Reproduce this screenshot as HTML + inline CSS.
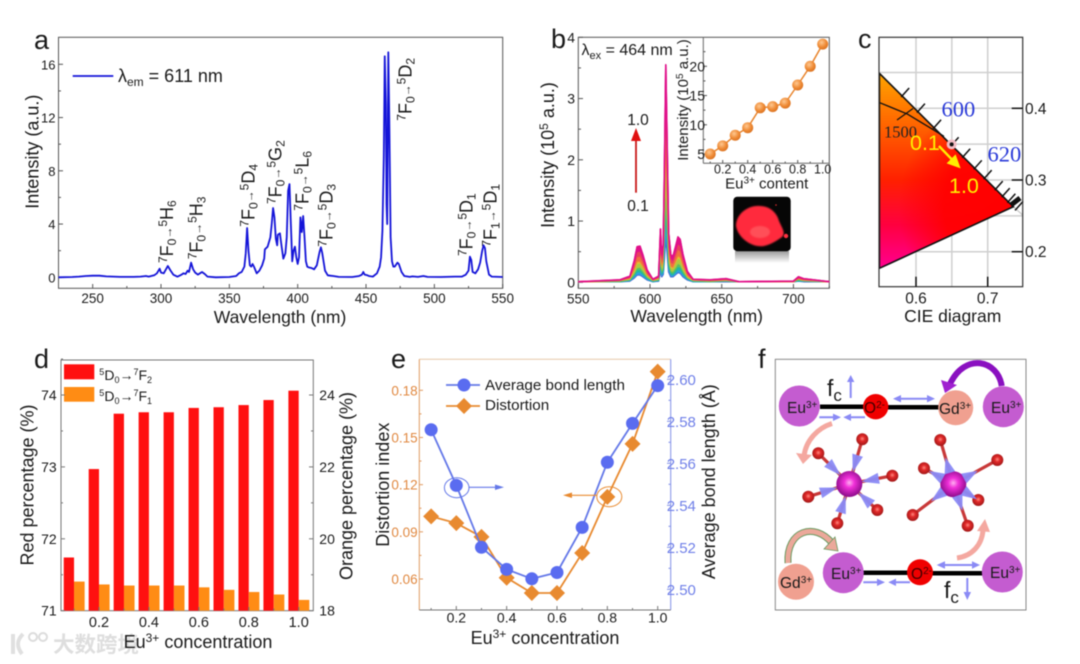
<!DOCTYPE html>
<html lang="en">
<head>
<meta charset="utf-8">
<title>Eu3+ phosphor characterisation figure</title>
<style>
html,body{margin:0;padding:0;background:#fff;}
body{width:1080px;height:664px;overflow:hidden;}
svg{display:block;filter:blur(0.4px);}
text{font-family:"Liberation Sans",Arial,sans-serif;fill:#1a1a1a;}
.serif{font-family:"Liberation Serif",serif;}
</style>
</head>
<body>
<svg id="fig" xmlns="http://www.w3.org/2000/svg" width="1080" height="664" viewBox="0 0 1080 664">
<defs>
  <linearGradient id="gamutBase" gradientUnits="userSpaceOnUse" x1="879" y1="73" x2="879" y2="268">
    <stop offset="0" stop-color="#ffa500"/><stop offset="0.55" stop-color="#ff2000"/><stop offset="0.78" stop-color="#ff0040"/><stop offset="1" stop-color="#ff0090"/>
  </linearGradient>
  <radialGradient id="gamutTip" gradientUnits="userSpaceOnUse" cx="1013" cy="207" r="115">
    <stop offset="0" stop-color="#ff0000"/><stop offset="0.6" stop-color="#ff0000" stop-opacity="0.9"/><stop offset="1" stop-color="#ff0000" stop-opacity="0"/>
  </radialGradient>
  <radialGradient id="orangeBall" cx="0.4" cy="0.35" r="0.7">
    <stop offset="0" stop-color="#ffc890"/><stop offset="0.6" stop-color="#ee8a35"/><stop offset="1" stop-color="#d87020"/>
  </radialGradient>
  <radialGradient id="euBall" cx="0.5" cy="0.45" r="0.55">
    <stop offset="0" stop-color="#ffb0f0"/><stop offset="0.35" stop-color="#f030d8"/><stop offset="1" stop-color="#8a0a88"/>
  </radialGradient>
  <radialGradient id="oBall" cx="0.5" cy="0.45" r="0.55">
    <stop offset="0" stop-color="#ff8a80"/><stop offset="0.4" stop-color="#e02828"/><stop offset="1" stop-color="#a01818"/>
  </radialGradient>
  <linearGradient id="reflect" x1="0" y1="0" x2="0" y2="1">
    <stop offset="0" stop-color="#9a9a9a"/><stop offset="1" stop-color="#ffffff"/>
  </linearGradient>
  <filter id="soft" x="-30%" y="-30%" width="160%" height="160%"><feGaussianBlur stdDeviation="0.8"/></filter>
</defs>

<!-- Panel letters -->
<text x="34" y="49" font-size="27">a</text>
<text x="551" y="48" font-size="27">b</text>
<text x="858" y="48" font-size="27">c</text>
<text x="34" y="368" font-size="27">d</text>
<text x="391" y="368" font-size="27">e</text>
<text x="758" y="368" font-size="27">f</text>

<!-- Panel a static -->
<g id="panelA">
  <rect x="58.5" y="37.3" width="444.2" height="251" fill="none" stroke="#555" stroke-width="1"/>
  <line x1="72.7" y1="76" x2="113.3" y2="76" stroke="#1414d8" stroke-width="1.8"/>
  <text x="118" y="82" font-size="18">λ<tspan font-size="12" dy="4">em</tspan><tspan dy="-4"> = 611 nm</tspan></text>
  <text x="280" y="323" font-size="17.5" text-anchor="middle">Wavelength (nm)</text>
  <text transform="translate(38.5,151.7) rotate(-90)" font-size="18" text-anchor="middle">Intensity (a.u.)</text>
  <g font-size="18">
  <text transform="translate(173,263) rotate(-90)"><tspan font-size="12" dy="-6">7</tspan><tspan dy="6">F</tspan><tspan font-size="12" dy="3">0</tspan><tspan font-size="12" dy="-4">→</tspan><tspan font-size="12" dy="-5">5</tspan><tspan dy="6">H</tspan><tspan font-size="12" dy="3">6</tspan></text>
  <text transform="translate(202.7,259.3) rotate(-90)"><tspan font-size="12" dy="-6">7</tspan><tspan dy="6">F</tspan><tspan font-size="12" dy="3">0</tspan><tspan font-size="12" dy="-4">→</tspan><tspan font-size="12" dy="-5">5</tspan><tspan dy="6">H</tspan><tspan font-size="12" dy="3">3</tspan></text>
  <text transform="translate(254.3,226.7) rotate(-90)"><tspan font-size="12" dy="-6">7</tspan><tspan dy="6">F</tspan><tspan font-size="12" dy="3">0</tspan><tspan font-size="12" dy="-4">→</tspan><tspan font-size="12" dy="-5">5</tspan><tspan dy="6">D</tspan><tspan font-size="12" dy="3">4</tspan></text>
  <text transform="translate(281.7,204) rotate(-90)"><tspan font-size="12" dy="-6">7</tspan><tspan dy="6">F</tspan><tspan font-size="12" dy="3">0</tspan><tspan font-size="12" dy="-4">→</tspan><tspan font-size="12" dy="-5">5</tspan><tspan dy="6">G</tspan><tspan font-size="12" dy="3">2</tspan></text>
  <text transform="translate(308.3,210.7) rotate(-90)"><tspan font-size="12" dy="-6">7</tspan><tspan dy="6">F</tspan><tspan font-size="12" dy="3">0</tspan><tspan font-size="12" dy="-4">→</tspan><tspan font-size="12" dy="-5">5</tspan><tspan dy="6">L</tspan><tspan font-size="12" dy="3">6</tspan></text>
  <text transform="translate(332.7,246.7) rotate(-90)"><tspan font-size="12" dy="-6">7</tspan><tspan dy="6">F</tspan><tspan font-size="12" dy="3">0</tspan><tspan font-size="12" dy="-4">→</tspan><tspan font-size="12" dy="-5">5</tspan><tspan dy="6">D</tspan><tspan font-size="12" dy="3">3</tspan></text>
  <text transform="translate(411.7,120.7) rotate(-90)"><tspan font-size="12" dy="-6">7</tspan><tspan dy="6">F</tspan><tspan font-size="12" dy="3">0</tspan><tspan font-size="12" dy="-4">→</tspan><tspan font-size="12" dy="-5">5</tspan><tspan dy="6">D</tspan><tspan font-size="12" dy="3">2</tspan></text>
  <text transform="translate(472.7,256) rotate(-90)"><tspan font-size="12" dy="-6">7</tspan><tspan dy="6">F</tspan><tspan font-size="12" dy="3">0</tspan><tspan font-size="12" dy="-4">→</tspan><tspan font-size="12" dy="-5">5</tspan><tspan dy="6">D</tspan><tspan font-size="12" dy="3">1</tspan></text>
  <text transform="translate(496.7,246.7) rotate(-90)"><tspan font-size="12" dy="-6">7</tspan><tspan dy="6">F</tspan><tspan font-size="12" dy="3">1</tspan><tspan font-size="12" dy="-4">→</tspan><tspan font-size="12" dy="-5">5</tspan><tspan dy="6">D</tspan><tspan font-size="12" dy="3">1</tspan></text>
  </g>
</g>

<!-- Panel b static -->
<g id="panelB">
  <rect x="578.3" y="37.3" width="251" height="251" fill="none" stroke="#555" stroke-width="1"/>
  <text x="581.5" y="55" font-size="16">λ<tspan font-size="11" dy="4">ex</tspan><tspan dy="-4"> = 464 nm</tspan></text>
  <text x="696.7" y="322" font-size="17.5" text-anchor="middle">Wavelength (nm)</text>
  <text transform="translate(554,155) rotate(-90)" font-size="18" text-anchor="middle">Intensity (10<tspan font-size="12" dy="-6">5</tspan><tspan dy="6"> a.u.)</tspan></text>
  <line x1="636" y1="192.7" x2="636" y2="138" stroke="#c81818" stroke-width="1.8"/>
  <polygon points="636,128 631,141 641,141" fill="#e01010"/>
  <text x="638" y="125" font-size="15.5" text-anchor="middle">1.0</text>
  <text x="638" y="211" font-size="15.5" text-anchor="middle">0.1</text>
  <line x1="703.3" y1="37.3" x2="703.3" y2="163.3" stroke="#666" stroke-width="1"/>
  <line x1="703.3" y1="163.3" x2="829.3" y2="163.3" stroke="#666" stroke-width="1"/>
  <text transform="translate(688,100) rotate(-90)" font-size="15" text-anchor="middle">Intensity (10<tspan font-size="10" dy="-5">5</tspan><tspan dy="5"> a.u.)</tspan></text>
  <text x="766.7" y="188.5" font-size="15" text-anchor="middle">Eu<tspan font-size="10" dy="-5">3+</tspan><tspan dy="5"> content</tspan></text>
  <g>
    <rect x="735" y="251" width="54" height="12" fill="url(#reflect)"/>
    <rect x="733.3" y="196.7" width="57.4" height="54.5" rx="4" fill="#060606"/>
    <path d="M736 226 C736 214 748 205 760 206 C770 206 777 213 779 221 C782 228 786 233 782 237 C776 241 772 244 764 246 C752 248 738 238 736 226 Z" fill="#ff2a3c" filter="url(#soft)"/>
    <ellipse cx="760" cy="232" rx="10" ry="6" fill="#ff5058" filter="url(#soft)"/>
    <circle cx="786" cy="236" r="2.2" fill="#ff3040"/>
    <circle cx="776" cy="205" r="0.8" fill="#e03030"/>
  </g>
</g>

<!-- Panel c static -->
<g id="panelC">
  <text x="952.7" y="322" font-size="17.5" text-anchor="middle">CIE diagram</text>
</g>

<!-- Panel d static -->
<g id="panelD">
  <g>
    <path d="M13 634 L13 654 M23 634 C17 640 16 646 22 654" fill="none" stroke="#e0e0e0" stroke-width="4"/>
    <circle cx="33" cy="637" r="4" fill="none" stroke="#dcdcdc" stroke-width="2"/>
    <circle cx="43" cy="637" r="4" fill="none" stroke="#dcdcdc" stroke-width="2"/>
    <text x="53" y="652" font-size="21.5" font-weight="700" style="font-family:'Liberation Sans','Noto Sans CJK SC',sans-serif;fill:#dedede">大数跨境</text>
  </g>
  <rect x="61" y="360" width="252.3" height="250.7" fill="none" stroke="#777" stroke-width="1"/>
  <rect x="64" y="364.3" width="30.3" height="15" fill="#ff1010"/>
  <rect x="64" y="387" width="30.3" height="14.7" fill="#ff8c14"/>
  <text x="99.3" y="380" font-size="14"><tspan font-size="9" dy="-5">5</tspan><tspan dy="5">D</tspan><tspan font-size="9" dy="3">0</tspan><tspan dy="-3">→</tspan><tspan font-size="9" dy="-5">7</tspan><tspan dy="5">F</tspan><tspan font-size="9" dy="3">2</tspan></text>
  <text x="99.3" y="401" font-size="14"><tspan font-size="9" dy="-5">5</tspan><tspan dy="5">D</tspan><tspan font-size="9" dy="3">0</tspan><tspan dy="-3">→</tspan><tspan font-size="9" dy="-5">7</tspan><tspan dy="5">F</tspan><tspan font-size="9" dy="3">1</tspan></text>
  <text x="198" y="648" font-size="18" text-anchor="middle">Eu<tspan font-size="12" dy="-6">3+</tspan><tspan dy="6"> concentration</tspan></text>
  <text transform="translate(33.5,485) rotate(-90)" font-size="18" text-anchor="middle">Red percentage (%)</text>
  <text transform="translate(352.7,486) rotate(-90)" font-size="18" text-anchor="middle">Orange percentage (%)</text>
</g>

<!-- Panel e static -->
<g id="panelE">
  <line x1="419.3" y1="359.3" x2="670.7" y2="359.3" stroke="#e8c8a8" stroke-width="1"/>
  <line x1="419.3" y1="359.3" x2="419.3" y2="610" stroke="#e09a60" stroke-width="1"/>
  <line x1="670.7" y1="359.3" x2="670.7" y2="610" stroke="#8090e8" stroke-width="1"/>
  <line x1="419.3" y1="610" x2="670.7" y2="610" stroke="#777" stroke-width="1"/>
  <text x="545" y="644" font-size="18" text-anchor="middle">Eu<tspan font-size="12" dy="-6">3+</tspan><tspan dy="6"> concentration</tspan></text>
  <text transform="translate(389,484.7) rotate(-90)" font-size="18" text-anchor="middle">Distortion index</text>
  <text transform="translate(715,481.7) rotate(-90)" font-size="18" text-anchor="middle">Average bond length (Å)</text>
</g>
<g id="panelEOver">
  <line x1="446" y1="385" x2="480" y2="385" stroke="#6478e8" stroke-width="1.8"/>
  <circle cx="464" cy="385" r="6.5" fill="#5a6cf0"/>
  <text x="485" y="390" font-size="15.2">Average bond length</text>
  <line x1="446" y1="406" x2="480" y2="406" stroke="#e88a30" stroke-width="1.8"/>
  <polygon points="464,398 472,406 464,414 456,406" fill="#e88a30"/>
  <text x="485" y="410" font-size="15.2">Distortion</text>
  <ellipse cx="456.7" cy="487.7" rx="12.3" ry="10" fill="none" stroke="#6478e8" stroke-width="1"/>
  <line x1="469" y1="487.3" x2="500" y2="487.3" stroke="#6478e8" stroke-width="1.2"/>
  <polygon points="504,487.3 495,484.5 495,490" fill="#6478e8"/>
  <ellipse cx="609.3" cy="496.7" rx="12.5" ry="10" fill="none" stroke="#e88a30" stroke-width="1"/>
  <line x1="597" y1="495.3" x2="566" y2="495.3" stroke="#e88a30" stroke-width="1.2"/>
  <polygon points="563,495.3 572,492.5 572,498" fill="#e88a30"/>
</g>

<!-- Panel f schematic -->
<g id="panelF">
  <rect x="775.3" y="359.3" width="250.7" height="250.7" fill="none" stroke="#888" stroke-width="1"/>
  <line x1="820" y1="406.7" x2="864" y2="406.7" stroke="#000" stroke-width="4.5"/>
  <line x1="888" y1="407.3" x2="940" y2="407.3" stroke="#000" stroke-width="4.5"/>
  <line x1="863" y1="572.7" x2="909" y2="572.7" stroke="#000" stroke-width="4.5"/>
  <line x1="932" y1="573.3" x2="983" y2="573.3" stroke="#000" stroke-width="4.5"/>
  <circle cx="799.3" cy="406" r="20.5" fill="#c45cd0"/>
  <circle cx="875.7" cy="406.7" r="12.7" fill="#f00000"/>
  <circle cx="955.7" cy="407.7" r="17.5" fill="#f0a090"/>
  <circle cx="1003.3" cy="406.7" r="20.5" fill="#c45cd0"/>
  <circle cx="796" cy="581.7" r="18" fill="#f0a090"/>
  <circle cx="843.3" cy="572.7" r="20.5" fill="#c45cd0"/>
  <circle cx="920" cy="572.3" r="13" fill="#f00000"/>
  <circle cx="1002.3" cy="572" r="20.5" fill="#c45cd0"/>
  <g font-size="15.5">
    <text x="787" y="413">Eu<tspan font-size="10" dy="-5">3+</tspan></text>
    <text x="864" y="413" style="fill:#400">O<tspan font-size="10" dy="-5">2-</tspan></text>
    <text x="939" y="414">Gd<tspan font-size="10" dy="-5">3+</tspan></text>
    <text x="991" y="413">Eu<tspan font-size="10" dy="-5">3+</tspan></text>
    <text x="780" y="588">Gd<tspan font-size="10" dy="-5">3+</tspan></text>
    <text x="831" y="579">Eu<tspan font-size="10" dy="-5">3+</tspan></text>
    <text x="911" y="579" style="fill:#400">O<tspan font-size="10" dy="-5">2-</tspan></text>
    <text x="990" y="578">Eu<tspan font-size="10" dy="-5">3+</tspan></text>
  </g>
  <text x="827" y="396" font-size="23">f<tspan font-size="17" dy="5">c</tspan></text>
  <text x="944" y="598" font-size="23">f<tspan font-size="17" dy="5">c</tspan></text>
  <g stroke="#8a8af5" stroke-width="2" fill="#8a8af5">
    <line x1="850.7" y1="398" x2="850.7" y2="378"/>
    <polygon points="850.7,375 847,382 854.4,382" stroke="none"/>
    <line x1="967.3" y1="578" x2="967.3" y2="596"/>
    <polygon points="967.3,600 963.6,592 971,592" stroke="none"/>
    <line x1="896" y1="398.7" x2="932" y2="398.7"/>
    <polygon points="893,398.7 901,395 901,402.4" stroke="none"/>
    <polygon points="935,398.7 927,395 927,402.4" stroke="none"/>
    <line x1="939" y1="565" x2="977" y2="565"/>
    <polygon points="936.7,565 945,561.3 945,568.7" stroke="none"/>
    <polygon points="980,565 972,561.3 972,568.7" stroke="none"/>
    <line x1="819.3" y1="417.3" x2="836" y2="417.3"/>
    <polygon points="841,417.3 833,413.6 833,421" stroke="none"/>
    <line x1="865" y1="417.3" x2="848" y2="417.3"/>
    <polygon points="843.3,417.3 851,413.6 851,421" stroke="none"/>
    <line x1="863.3" y1="582.3" x2="880" y2="582.3"/>
    <polygon points="885,582.3 877,578.6 877,586" stroke="none"/>
    <line x1="910" y1="582.3" x2="893" y2="582.3"/>
    <polygon points="888.3,582.3 896,578.6 896,586" stroke="none"/>
  </g>
  <path d="M1001.7 386 C998 360 965 352 950 384" fill="none" stroke="#8a10c0" stroke-width="6"/>
  <polygon points="945,393 941,380 957,385" fill="#a020d0"/>
  <path d="M832 423.5 C818 428 806 440 804 456" fill="none" stroke="#f4a8a0" stroke-width="5"/>
  <polygon points="803,464 796,453 812,455" fill="#f4a8a0"/>
  <path d="M788 563 C786 530 815 522 832 543" fill="none" stroke="#6a9a60" stroke-width="7"/>
  <path d="M788 563 C786 530 815 522 832 543" fill="none" stroke="#eba89a" stroke-width="5"/>
  <polygon points="838,551 824,549 835,537" fill="#eba89a" stroke="#6a9a60" stroke-width="0.8"/>
  <path d="M957 558 C972 556 982 545 983 530" fill="none" stroke="#f4a8a0" stroke-width="5"/>
  <polygon points="985,519 977,531 990,532" fill="#f4a8a0"/>
</g>
<g id="molecules"></g>

<script>
// ---- Panel a data ----
const aWavelength=[225,235,240,245,250,255,260,270,280,285,289,291,295,297,299,300,302,305,307,309,312,315,316.5,318,319.5,320.5,322,323.5,325,327,328.5,330,332,334,340,350,355,357,359,361,362,363,364,365,366,367,368,370,372,374,375.5,376,378,380,381,382,383,384,385,385.5,387,388,389.5,391,392,393,394,395,396,397,398,399,400,401,402,403,404,405,406,407,408,410,412,414,416,417,418,420,422,424,426,430,440,445,447,448,449,451,452,455,458,460,461,462,463,463.7,464.5,465,465.5,466.3,467,468,469,470,471,473,474,476,478,482,484,488,492,495,505,515,520,523,525,526,527,528,530,532,533.5,535,536,537,538,540,542,550];
const aIntensity=[0,0.02,0.05,0.1,0.12,0.12,0.07,0.03,0.03,0.05,0.1,0.05,0.15,0.3,0.65,0.35,0.3,0.85,0.5,0.2,0.05,0.2,0.3,0.25,0.5,0.4,1.1,0.6,0.35,0.2,0.3,0.4,0.25,0.05,0,0.02,0.1,0.3,0.4,0.8,1.8,3.7,2,0.9,0.8,1,0.8,0.3,0.5,0.9,1.4,2.1,2.3,3,4,5.2,4.5,2.9,2.4,3.2,3.3,2.5,1.4,1.8,3,6.5,7,4,1.2,2,2.3,1.5,1,1.5,4.5,3.4,4.6,3,1.2,0.8,0.75,0.7,0.6,0.9,1.9,2.25,1.8,0.5,0.15,0.12,0.1,0.03,0.02,0.1,0.2,0.4,0.2,0.15,0.1,0.05,0.3,0.8,1.5,3.5,9,16.6,13,5.5,4,16.9,12,3,1.2,0.8,0.8,1.1,1,0.4,0.1,0.03,0.07,0.03,0.1,0.03,0.02,0.05,0.05,0.2,0.5,1.55,1.3,0.4,0.3,0.6,1.1,2,2.4,2.2,1.2,0.2,0.05,0.02];
const aXTicks=[250,300,350,400,450,500,550];
const aXMinor=[275,325,375,425,475,525];
const aYTicks=[0,4,8,12,16];
const aYMinor=[2,6,10,14];

// ---- Panel b data ----
const bWavelength=[550,579,586,589,591,593,595,598,602,606,607.3,608.2,609.2,610,611,612,613,614.5,616,618,619.5,621,623,626,630,642,653,662,700,703.5,707,725];
const bConc01=[.01,.01,.02,.07,.12,.12,.09,.04,.01,.02,.18,.09,.13,.38,.75,.46,.17,.09,.09,.13,.16,.15,.09,.04,.01,.01,.01,.01,.01,.02,.01,.01];
const bConc02=[.01,.01,.03,.09,.16,.16,.12,.05,.01,.03,.23,.12,.16,.49,.96,.59,.22,.12,.11,.16,.2,.19,.12,.05,.01,.01,.02,.01,.01,.02,.02,.01];
const bConc03=[.01,.01,.03,.12,.2,.2,.15,.07,.02,.03,.3,.15,.2,.61,1.21,.75,.27,.15,.14,.2,.25,.24,.15,.06,.02,.01,.02,.01,.01,.03,.02,.01];
const bConc04=[.01,.02,.04,.14,.23,.24,.18,.08,.02,.04,.35,.18,.24,.72,1.42,.88,.32,.18,.17,.24,.3,.28,.18,.07,.02,.02,.02,.01,.01,.04,.02,.01];
const bConc05=[.01,.02,.05,.18,.3,.31,.24,.11,.03,.05,.46,.24,.32,.96,1.88,1.17,.42,.24,.22,.32,.39,.37,.24,.09,.03,.02,.03,.01,.01,.05,.03,.01];
const bConc06=[.01,.02,.06,.19,.32,.32,.25,.11,.03,.06,.48,.25,.33,.99,1.95,1.21,.44,.25,.23,.33,.41,.39,.25,.1,.03,.02,.03,.01,.01,.05,.03,.01];
const bConc07=[.01,.02,.06,.2,.34,.34,.26,.12,.03,.06,.5,.26,.35,1.04,2.06,1.28,.46,.26,.24,.35,.43,.41,.26,.1,.03,.02,.03,.01,.01,.05,.03,.01];
const bConc08=[.01,.03,.07,.25,.41,.42,.32,.14,.04,.07,.62,.32,.43,1.28,2.52,1.56,.57,.32,.3,.43,.53,.5,.32,.13,.04,.03,.04,.01,.01,.06,.04,.01];
const bConc09=[.01,.03,.08,.29,.49,.5,.38,.17,.04,.08,.73,.38,.5,1.51,2.98,1.85,.67,.38,.35,.5,.62,.59,.38,.15,.04,.03,.05,.01,.02,.08,.05,.01];
const bConc10=[.01,.04,.1,.35,.58,.59,.45,.2,.05,.1,.87,.45,.6,1.8,3.55,2.2,.8,.45,.42,.6,.74,.7,.45,.18,.05,.04,.06,.01,.02,.09,.06,.01];
const bXTicks=[550,600,650,700];
const bXMinor=[575,625,675,725];
const bYTicks=[0,1,2,3,4];
const bYMinor=[0.5,1.5,2.5,3.5];

// ---- Panel b inset data ----
const insetConc=[0.1,0.2,0.3,0.4,0.5,0.6,0.7,0.8,0.9,1.0];
const insetIntensity=[5,6.4,8.2,9.5,12.9,13.1,13.7,16.8,20,23.8];
const insetXTicks=[0.2,0.4,0.6,0.8,1.0];
const insetXMinor=[0.1,0.3,0.5,0.7,0.9];
const insetYTicks=[5,10,15,20];
const insetYMinor=[7.5,12.5,17.5,22.5];

// ---- Panel c data ----
const cXGrid=[0.6,0.65,0.7];
const cYGrid=[0.2,0.25,0.3,0.35,0.4,0.45];
const cXTicks=[0.6,0.7];
const cYTicks=[0.2,0.3,0.4];
const gamutX=[0.549,0.7357,0.549];
const gamutY=[0.4488,0.2628,0.1768];
const locusX=[0.549,0.588,0.616,0.639];
const locusY=[0.408,0.392,0.375,0.361];
const wavelengthTickX=[0.5807,0.6027,0.6252,0.6497,0.6658,0.6820,0.6958,0.7112,0.7210,0.7288,0.7348,0.7395];
const cieStartX=0.632, cieStartY=0.3474, cieEndX=0.6622, cieEndY=0.3163;
const ciePointX=0.6497, ciePointY=0.3497;

// ---- Panel d data ----
const dConc=[0.1,0.2,0.3,0.4,0.5,0.6,0.7,0.8,0.9,1.0];
const dRed=[71.74,72.97,73.74,73.76,73.76,73.82,73.83,73.86,73.93,74.06];
const dOrange=[18.81,18.73,18.70,18.70,18.70,18.65,18.58,18.52,18.45,18.30];
const dXTicks=[0.2,0.4,0.6,0.8,1.0];
const dXMinor=[0.1,0.3,0.5,0.7,0.9];
const dLeftTicks=[71,72,73,74];
const dLeftMinor=[71.5,72.5,73.5,74.5];
const dRightTicks=[18,20,22,24];
const dRightMinor=[19,21,23];

// ---- Panel e data ----
const eConc=[0.1,0.2,0.3,0.4,0.5,0.6,0.7,0.8,0.9,1.0];
const eBond=[2.576,2.5495,2.520,2.5095,2.505,2.508,2.5295,2.5605,2.579,2.597];
const eDistortion=[0.0998,0.0955,0.0868,0.0608,0.0511,0.0511,0.0765,0.1122,0.1459,0.1919];
const eXTicks=[0.2,0.4,0.6,0.8,1.0];
const eXMinor=[0.1,0.3,0.5,0.7,0.9];
const eLeftTicks=[0.06,0.09,0.12,0.15,0.18];
const eLeftMinor=[0.075,0.105,0.135,0.165];
const eRightTicks=[2.50,2.52,2.54,2.56,2.58,2.60];
const eRightMinor=[2.51,2.53,2.55,2.57,2.59];

const NS='http://www.w3.org/2000/svg';
function scale(d0,d1,r0,r1){return function(v){return r0+(v-d0)*(r1-r0)/(d1-d0);};}
function mk(parent,tag,attrs){
  const el=document.createElementNS(NS,tag);
  for(const k in attrs){el.setAttribute(k,attrs[k]);}
  parent.appendChild(el);
  return el;
}
function tick(parent,x1,y1,x2,y2,color,w){
  const el=mk(parent,'line',{x1:x1,y1:y1,x2:x2,y2:y2,stroke:color||'#555','stroke-width':w||1});
  
  
  return el;
}
function tickLabel(parent,x,y,txt,anchor,size,color){
  const el=mk(parent,'text',{x:x,y:y,'text-anchor':anchor,'font-size':size});
  if(color){el.style.fill=color;}
  el.textContent=txt;
  
  
  return el;
}
function pathOf(xs,ys,fx,fy){
  return xs.map(function(x,i){return (i?'L':'M')+fx(x).toFixed(2)+' '+fy(ys[i]).toFixed(2);}).join(' ');
}

// ---------- Panel a ----------
const gA=document.getElementById('panelA');
const aX=scale(225,550,58.5,502.7), aY=scale(0,16,277.3,64.3);
aXTicks.forEach(function(t){tick(gA,aX(t),288.3,aX(t),284);tickLabel(gA,aX(t),303,String(t),'middle',13.5);});
aXMinor.forEach(function(t){tick(gA,aX(t),288.3,aX(t),286);});
aYTicks.forEach(function(t){tick(gA,58.5,aY(t),63,aY(t));tickLabel(gA,55.5,aY(t)+5,String(t),'end',13);});
aYMinor.forEach(function(t){tick(gA,58.5,aY(t),61,aY(t));});
const aLine=mk(gA,'path',{d:pathOf(aWavelength,aIntensity,aX,aY),fill:'none',stroke:'#1414d8','stroke-width':1.8,'stroke-linejoin':'round'});



// ---------- Panel b ----------
const gB=document.getElementById('panelB');
const bX=scale(550,725,578.3,829.3), bY=scale(0,4,282.3,37.3);
bXTicks.forEach(function(t){tick(gB,bX(t),288.3,bX(t),284);tickLabel(gB,bX(t),303.3,String(t),'middle',13.5);});
bXMinor.forEach(function(t){tick(gB,bX(t),288.3,bX(t),286);});
bYTicks.forEach(function(t){tick(gB,578.3,bY(t),583,bY(t));tickLabel(gB,575,bY(t)+5,String(t),'end',14);});
bYMinor.forEach(function(t){tick(gB,578.3,bY(t),581,bY(t));});
const bSeries=[bConc01,bConc02,bConc03,bConc04,bConc05,bConc06,bConc07,bConc08,bConc09,bConc10];
const bColors=['#4a5fd0','#2f9fe0','#20b8a0','#5cc060','#b0c840','#f0c030','#f0a030','#f07040','#e84060','#e0108a'];
bSeries.forEach(function(s,i){
  const p=mk(gB,'path',{d:pathOf(bWavelength,s,bX,bY),fill:'none',stroke:bColors[i],'stroke-width':1.5,'stroke-linejoin':'round'});
  
  
});
bSeries.forEach(function(s,i){
  if(i===0){return;}
  const prev=bSeries[i-1];
  const d=pathOf(bWavelength,s,bX,bY)+' '+bWavelength.slice().reverse().map(function(w,k){return 'L'+bX(w).toFixed(2)+' '+bY(prev[prev.length-1-k]).toFixed(2);}).join(' ')+' Z';
  const f=mk(gB,'path',{d:d,fill:bColors[i],stroke:'none'});
  
  
});
const bTop=mk(gB,'path',{d:pathOf(bWavelength,bConc10,bX,bY),fill:'none',stroke:bColors[9],'stroke-width':1.6,'stroke-linejoin':'round'});



const inX=scale(0.2,1.0,722.7,822.7), inY=scale(5,20,154,66.3);
insetXTicks.forEach(function(t){tick(gB,inX(t),163.3,inX(t),160);tickLabel(gB,inX(t),173.5,t.toFixed(1),'middle',12.5);});
insetXMinor.forEach(function(t){tick(gB,inX(t),163.3,inX(t),161.5);});
insetYTicks.forEach(function(t){tick(gB,703.3,inY(t),707,inY(t));tickLabel(gB,705,inY(t)+5,String(t),'end',14);});
insetYMinor.forEach(function(t){tick(gB,703.3,inY(t),705.5,inY(t));});
const inLine=mk(gB,'path',{d:pathOf(insetConc,insetIntensity,inX,inY),fill:'none',stroke:'#e8842c','stroke-width':1.5});


insetConc.forEach(function(c,i){
  const m=mk(gB,'circle',{cx:inX(c),cy:inY(insetIntensity[i]),r:5.5,fill:'url(#orangeBall)'});
  
  
});

// ---------- Panel c ----------
const gC=document.getElementById('panelC');
const cX=scale(0.6,0.7,916,987.7), cY=scale(0.2,0.4,251.7,108.3);
cXGrid.forEach(function(g){
  const l=mk(gC,'line',{x1:cX(g),y1:37.3,x2:cX(g),y2:286.7,stroke:'#cfcfcf','stroke-width':1.5});
  
  
});
cYGrid.forEach(function(g){
  const l=mk(gC,'line',{x1:879,y1:cY(g),x2:1022.7,y2:cY(g),stroke:'#cfcfcf','stroke-width':1.5});
  
  
});
const tail=mk(gC,'line',{x1:cX(gamutX[1]),y1:cY(gamutY[1]),x2:1022.7,y2:215,stroke:'#cfcfcf','stroke-width':1.5});


const gamutPts=gamutX.map(function(x,i){return cX(x).toFixed(1)+','+cY(gamutY[i]).toFixed(1);}).join(' ');
const gamutFill=mk(gC,'polygon',{points:gamutPts,fill:'url(#gamutBase)'});


const gamutTip=mk(gC,'polygon',{points:gamutPts,fill:'url(#gamutTip)'});


const gamutEdge=mk(gC,'polygon',{points:gamutPts,fill:'none',stroke:'#111','stroke-width':1.6});


wavelengthTickX.forEach(function(x){
  const t=(x-gamutX[0])/(gamutX[1]-gamutX[0]);
  const ey=cY(gamutY[0]+t*(gamutY[1]-gamutY[0]));
  tick(gC,cX(x)-1,ey+1,cX(x)+7,ey-8,'#111',1.5);
});
const thick=mk(gC,'line',{x1:1011,y1:205,x2:1020,y2:198,stroke:'#111','stroke-width':5});


const locus=mk(gC,'path',{d:pathOf(locusX,locusY,cX,cY),fill:'none',stroke:'#111','stroke-width':1.3});


const iso=mk(gC,'line',{x1:897,y1:120,x2:913,y2:108.5,stroke:'#111','stroke-width':1.2});


const frameC=mk(gC,'rect',{x:879,y:37.3,width:143.7,height:249.4,fill:'none',stroke:'#333','stroke-width':1.2});


cXTicks.forEach(function(t){tick(gC,cX(t),286.7,cX(t),276.7,'#111',1.5);tickLabel(gC,cX(t),303.5,t.toFixed(1),'middle',15.5);});
cYTicks.forEach(function(t){tick(gC,1011.7,cY(t),1022.7,cY(t),'#111',1.5);tickLabel(gC,1025,cY(t)+5.5,t.toFixed(1),'start',15.5);});
const l600=tickLabel(gC,941.5,116.5,'600','start',22.5,'#2a3ad8');
l600.setAttribute('class','serif');

const l620=tickLabel(gC,987.5,161.5,'620','start',22.5,'#2a3ad8');
l620.setAttribute('class','serif');

const l1500=tickLabel(gC,884,137.5,'1500','start',16.5,'#222');
l1500.setAttribute('class','serif');

const dotOuter=mk(gC,'circle',{cx:cX(ciePointX),cy:cY(ciePointY),r:5,fill:'#f2bcc4'});


const dotInner=mk(gC,'circle',{cx:cX(ciePointX),cy:cY(ciePointY),r:2,fill:'#111'});


const cArrow=mk(gC,'line',{x1:cX(cieStartX),y1:cY(cieStartY),x2:cX(cieEndX)-5,y2:cY(cieEndY)-5,stroke:'#ffee00','stroke-width':2.4});


const hx=cX(cieEndX), hy=cY(cieEndY);
const cHead=mk(gC,'polygon',{points:hx+','+hy+' '+(hx-14)+','+(hy-5)+' '+(hx-5)+','+(hy-14),fill:'#ffee00'});


const t01=tickLabel(gC,910,150,'0.1','start',21.5,'#fff000');

const t10=tickLabel(gC,949,193,'1.0','start',21.5,'#fff000');


// ---------- Panel d ----------
const gD=document.getElementById('panelD');
const dX=scale(0.2,1.0,99,298.7), dYL=scale(71,74,610.7,395), dYR=scale(18,24,610.7,395);
dConc.forEach(function(c,i){
  const r=mk(gD,'rect',{x:dX(c)-10.3,y:dYL(dRed[i]),width:10.3,height:610.7-dYL(dRed[i]),fill:'#ff1010'});
  
  
  const o=mk(gD,'rect',{x:dX(c),y:dYR(dOrange[i]),width:10.6,height:610.7-dYR(dOrange[i]),fill:'#ff8c14'});
  
  
});
dXTicks.forEach(function(t){tick(gD,dX(t),610.7,dX(t),607,'#777');tickLabel(gD,dX(t),627,t.toFixed(1),'middle',14.5);});
dXMinor.forEach(function(t){tick(gD,dX(t),610.7,dX(t),608.5,'#777');});
dLeftTicks.forEach(function(t){tick(gD,61,dYL(t),65,dYL(t),'#777');tickLabel(gD,56.7,dYL(t)+5,String(t),'end',14);});
dLeftMinor.forEach(function(t){tick(gD,61,dYL(t),63,dYL(t),'#777');});
dRightTicks.forEach(function(t){tick(gD,313.3,dYR(t),309,dYR(t),'#777');tickLabel(gD,319.3,dYR(t)+5,String(t),'start',14);});
dRightMinor.forEach(function(t){tick(gD,313.3,dYR(t),311,dYR(t),'#777');});

// ---------- Panel e ----------
const gE=document.getElementById('panelE');
const eX=scale(0.2,1.0,456.3,657.7), eYL=scale(0.06,0.18,579,390.3), eYR=scale(2.50,2.60,589.3,379.3);
eXTicks.forEach(function(t){tick(gE,eX(t),610,eX(t),606,'#777');tickLabel(gE,eX(t),622.5,t.toFixed(1),'middle',14);});
eXMinor.forEach(function(t){tick(gE,eX(t),610,eX(t),608,'#777');});
eLeftTicks.forEach(function(t){tick(gE,419.3,eYL(t),423,eYL(t),'#e09a60');tickLabel(gE,417.7,eYL(t)+5,t.toFixed(2),'end',13.5,'#e08840');});
eLeftMinor.forEach(function(t){tick(gE,419.3,eYL(t),421.5,eYL(t),'#e09a60');});
eRightTicks.forEach(function(t){tick(gE,670.7,eYR(t),667,eYR(t),'#8090e8');tickLabel(gE,666.7,eYR(t)+5.5,t.toFixed(2),'start',15,'#7080e8');});
eRightMinor.forEach(function(t){tick(gE,670.7,eYR(t),668.5,eYR(t),'#8090e8');});
const eOrangeLine=mk(gE,'path',{d:pathOf(eConc,eDistortion,eX,eYL),fill:'none',stroke:'#e88a30','stroke-width':1.8});


eConc.forEach(function(c,i){
  const x=eX(c), y=eYL(eDistortion[i]);
  const m=mk(gE,'polygon',{points:x+','+(y-8)+' '+(x+8)+','+y+' '+x+','+(y+8)+' '+(x-8)+','+y,fill:'#e88a30'});
  
  
});
const eBlueLine=mk(gE,'path',{d:pathOf(eConc,eBond,eX,eYR),fill:'none',stroke:'#6478e8','stroke-width':1.8});


eConc.forEach(function(c,i){
  const m=mk(gE,'circle',{cx:eX(c),cy:eYR(eBond[i]),r:6.5,fill:'#5a6cf0'});
  
  
});

// ---------- Panel f molecules ----------
const gM=document.getElementById('molecules');
const molLeftCentre=[849.3,484];
const molLeftTips=[[862.3,439.3],[818.3,453.3],[892.3,475.7],[808.3,496.7],[877.3,510],[837.3,523.3]];
const molRightCentre=[953.3,484.3];
const molRightTips=[[940.3,440],[997.3,460],[924,468.3],[978.3,500],[912.7,515],[967.7,525.7]];
function arrowTri(c,tip,near,far){
  const dx=tip[0]-c[0], dy=tip[1]-c[1], len=Math.hypot(dx,dy), ux=dx/len, uy=dy/len;
  const a=[c[0]+ux*near,c[1]+uy*near], bx=c[0]+ux*far, by=c[1]+uy*far;
  const px=-uy*5.5, py=ux*5.5;
  const pts=a[0]+','+a[1]+' '+(bx+px)+','+(by+py)+' '+(bx-px)+','+(by-py);
  const el=mk(gM,'polygon',{points:pts,fill:'#8a8af5','fill-opacity':0.95});
  
  
}
function molecule(c,tips,inward){
  tips.forEach(function(t){
    const b=mk(gM,'line',{x1:c[0],y1:c[1],x2:t[0],y2:t[1],stroke:'#c83838','stroke-width':3.2});
    
    
    const o=mk(gM,'circle',{cx:t[0],cy:t[1],r:6,fill:'url(#oBall)'});
    
    
  });
  if(inward){tips.forEach(function(t){arrowTri(c,t,12,30);});}
  const ball=mk(gM,'circle',{cx:c[0],cy:c[1],r:13,fill:'url(#euBall)'});
  
  
  if(!inward){tips.forEach(function(t){arrowTri(c,t,28,12);});}
}
molecule(molLeftCentre,molLeftTips,true);
molecule(molRightCentre,molRightTips,false);
</script>
</svg>
</body>
</html>
